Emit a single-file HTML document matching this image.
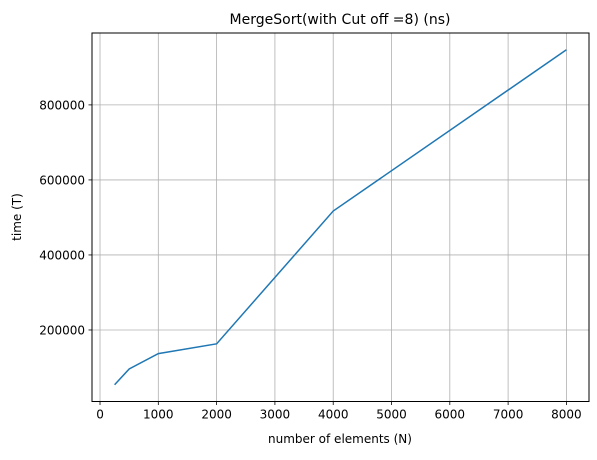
<!DOCTYPE html>
<html><head><meta charset="utf-8"><style>
body{margin:0;background:#fff;font-family:"Liberation Sans","DejaVu Sans",sans-serif;}
text{font-family:"DejaVu Sans","Liberation Sans",sans-serif;}
</style></head><body>
<svg id="chart" width="597" height="455" xmlns="http://www.w3.org/2000/svg">
<rect width="597" height="455" fill="#fff"/>
<g id="grid"></g>
<g id="ticks"></g>
<rect x="92" y="33" width="497" height="368.5" fill="none" stroke="#000" stroke-width="1"/>
<text x="340" y="24" text-anchor="middle" font-size="14">MergeSort(with Cut off =8) (ns)</text>
<text x="340" y="443" text-anchor="middle" font-size="12">number of elements (N)</text>
<text transform="translate(21,217) rotate(-90)" text-anchor="middle" font-size="12">time (T)</text>
<g id="series"></g>
</svg>
<script>
const xValues=[250,500,1000,2000,4000,8000];
const yValues=[54000,96000,137000,163000,517000,947000];
const xTicks=[0,1000,2000,3000,4000,5000,6000,7000,8000];
const yTicks=[200000,400000,600000,800000];
const L=92,R=589,T=33,B=401.5;
const xmin=Math.min(...xValues),xmax=Math.max(...xValues),ymin=Math.min(...yValues),ymax=Math.max(...yValues);
const xr=xmax-xmin,yr=ymax-ymin;
const x0=xmin-0.05*xr,x1=xmax+0.05*xr,y0=ymin-0.05*yr,y1=ymax+0.05*yr;
const sx=v=>L+(v-x0)/(x1-x0)*(R-L);
const sy=v=>B-(v-y0)/(y1-y0)*(B-T);
const NS="http://www.w3.org/2000/svg";
const grid=document.getElementById('grid'),ticks=document.getElementById('ticks'),series=document.getElementById('series');
function mk(tag,attrs,parent){const e=document.createElementNS(NS,tag);for(const k in attrs)e.setAttribute(k,attrs[k]);parent.appendChild(e);return e;}
xTicks.forEach(v=>{const x=sx(v);
const g=mk('line',{x1:x,x2:x,y1:T,y2:B,stroke:'#b0b0b0','stroke-width':0.8},grid);


const t=mk('line',{x1:x,x2:x,y1:B,y2:B+3.5,stroke:'#000','stroke-width':0.8},ticks);


const l=mk('text',{x:x,y:B+17,'text-anchor':'middle','font-size':12},ticks);l.textContent=v;


});
yTicks.forEach(v=>{const y=sy(v);
const g=mk('line',{x1:L,x2:R,y1:y,y2:y,stroke:'#b0b0b0','stroke-width':0.8},grid);


const t=mk('line',{x1:L-3.5,x2:L,y1:y,y2:y,stroke:'#000','stroke-width':0.8},ticks);


const l=mk('text',{x:L-7,y:y+4.5,'text-anchor':'end','font-size':12},ticks);l.textContent=v;


});
const p=mk('polyline',{points:xValues.map((v,i)=>sx(v)+','+sy(yValues[i])).join(' '),fill:'none',stroke:'#1f77b4','stroke-width':1.5},series);


</script>
</body></html>
